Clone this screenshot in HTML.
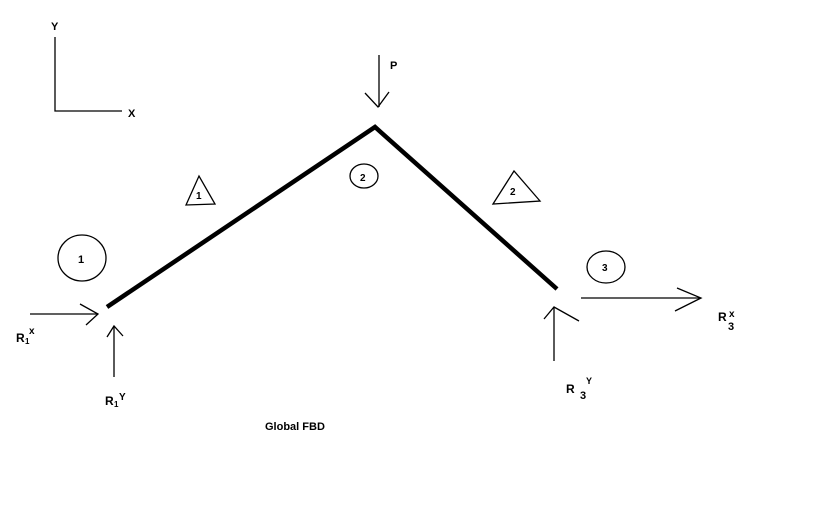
<!DOCTYPE html>
<html><head><meta charset="utf-8"><style>
html,body{margin:0;padding:0;background:#fff;}
svg{display:block;}
text{font-family:"Liberation Sans",sans-serif;font-weight:bold;fill:#000;}
</style></head><body>
<svg width="813" height="512" viewBox="0 0 813 512">
<rect width="813" height="512" fill="#fff"/>
<g stroke="#000" fill="none" stroke-width="1.3">
<!-- axes -->
<polyline points="55,37 55,111 122,111"/>
<!-- P arrow -->
<line x1="379" y1="55" x2="379" y2="107"/>
<polyline points="365,93 378,107 389,92"/>
<!-- triangles -->
<polygon points="186,205 199,176 215,204"/>
<polygon points="493,204 514,171 540,201"/>
<!-- circles -->
<ellipse cx="82" cy="258" rx="24" ry="23"/>
<ellipse cx="364" cy="176" rx="14" ry="12"/>
<ellipse cx="606" cy="267" rx="19" ry="16"/>
<!-- R1x -->
<line x1="30" y1="314" x2="98" y2="314"/>
<polyline points="80,304 98,314 86,325"/>
<!-- R1y -->
<line x1="114" y1="377" x2="114" y2="326"/>
<polyline points="107,337 114,326 123,336"/>
<!-- R3x -->
<line x1="581" y1="298" x2="700" y2="298"/>
<polyline points="677,288 701,298 675,311"/>
<!-- R3y -->
<line x1="554" y1="361" x2="554" y2="307"/>
<polyline points="544,319 554,307 579,321"/>
</g>
<!-- beam -->
<polyline points="107,307 375,127 557,289" stroke="#000" stroke-width="4.5" fill="none" stroke-linejoin="miter"/>
<!-- labels -->
<text x="51" y="30" font-size="11">Y</text>
<text x="128" y="117" font-size="11">X</text>
<text x="390" y="69" font-size="11">P</text>
<text x="196" y="199" font-size="10">1</text>
<text x="510" y="195" font-size="10">2</text>
<text x="78" y="263" font-size="11">1</text>
<text x="360" y="181" font-size="10">2</text>
<text x="602" y="271" font-size="10">3</text>
<text x="16" y="342" font-size="12">R</text>
<text x="25" y="344" font-size="8">1</text>
<text x="29" y="334" font-size="10">x</text>
<text x="105" y="405" font-size="12">R</text>
<text x="114" y="407" font-size="8">1</text>
<text x="119" y="400" font-size="10">Y</text>
<text x="718" y="321" font-size="12">R</text>
<text x="728" y="330" font-size="11">3</text>
<text x="729" y="317" font-size="10">x</text>
<text x="566" y="393" font-size="12">R</text>
<text x="580" y="399" font-size="11">3</text>
<text x="586" y="384" font-size="9">Y</text>
<text x="265" y="430" font-size="11">Global FBD</text>
</svg>
</body></html>
